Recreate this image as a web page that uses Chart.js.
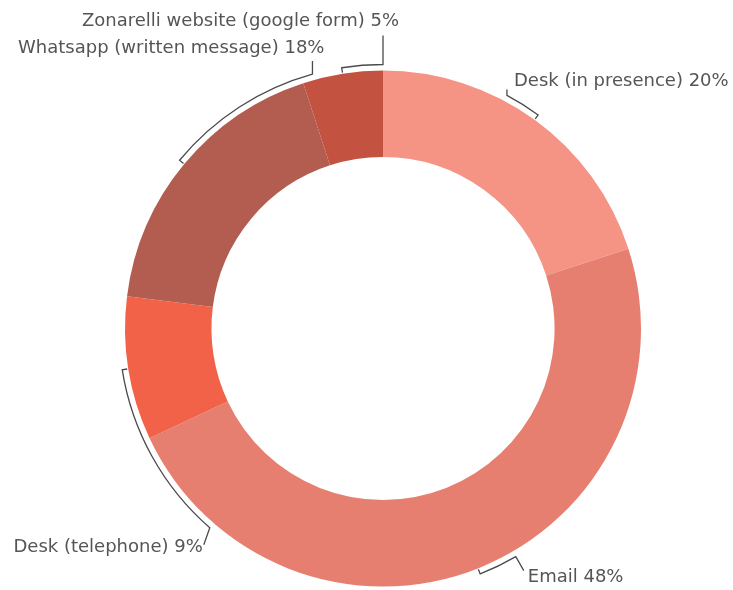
<!DOCTYPE html>
<html><head>
<script src="https://cdn.jsdelivr.net/npm/chart.js@4.4.1/dist/chart.umd.min.js"></script>
<style>body{margin:0;background:#fff}canvas{display:block}</style>
</head><body>
<canvas id="c" width="733" height="590"></canvas>
<script>
// Data
const categories = ['Desk (in presence)', 'Email', 'Desk (telephone)', 'Whatsapp (written message)', 'Zonarelli website (google form)'];
const values = [20, 48, 9, 18, 5];
const colors = ['#F59385', '#E67F6F', '#F26249', '#B35D50', '#C45241'];

// Label layout (callout geometry, not data)
const labelAngles = [-62, 59.8, 131, 254.5, 270];         // degrees, where each bracket ends
const leaderVec = [[0,-6],[8,14],[-6,17],[0,-13],[0,-29]]; // leader line from bracket end
const textOff = [[7,-8,'left'],[4,7,'left'],[-1,3,'right'],[12,-13,'right'],[16,-14,'right']];

const calloutPlugin = {
  id: 'callouts',
  afterDatasetsDraw(chart) {
    const ctx = chart.ctx;
    const meta = chart.getDatasetMeta(0);
    const total = values.reduce((a,b)=>a+b,0);
    ctx.save();
    ctx.strokeStyle = '#4a4a4a';
    ctx.fillStyle = '#555';
    ctx.lineWidth = 1.3;
    ctx.font = '18px "DejaVu Sans"';
    ctx.textBaseline = 'middle';
    meta.data.forEach((arc, i) => {
      const p = arc.getProps(['x','y','startAngle','endAngle','outerRadius'], true);
      const mid = (p.startAngle + p.endAngle) / 2;
      let la = labelAngles[i] * Math.PI / 180;
      while (la - mid > Math.PI) la -= 2*Math.PI;
      while (mid - la > Math.PI) la += 2*Math.PI;
      const rb = p.outerRadius + 6, rt = p.outerRadius + 1;
      ctx.beginPath();
      ctx.moveTo(p.x + rt*Math.cos(mid), p.y + rt*Math.sin(mid));
      ctx.lineTo(p.x + rb*Math.cos(mid), p.y + rb*Math.sin(mid));
      ctx.arc(p.x, p.y, rb, mid, la, la < mid);
      const ex = p.x + rb*Math.cos(la), ey = p.y + rb*Math.sin(la);
      const lx = ex + leaderVec[i][0], ly = ey + leaderVec[i][1];
      ctx.lineTo(lx, ly);
      ctx.stroke();
      const pct = Math.round(values[i] / total * 100);
      ctx.textAlign = textOff[i][2];
      ctx.fillText(categories[i] + ' ' + pct + '%', lx + textOff[i][0], ly + textOff[i][1]);
    });
    ctx.restore();
  }
};

new Chart(document.getElementById('c'), {
  type: 'doughnut',
  data: {
    labels: categories,
    datasets: [{ data: values, backgroundColor: colors, borderWidth: 0, hoverOffset: 0 }]
  },
  options: {
    responsive: false,
    animation: false,
    cutout: '66.5%',
    layout: { padding: { top: 70, bottom: 3, left: 125, right: 92 } },
    plugins: { legend: { display: false }, tooltip: { enabled: false } }
  },
  plugins: [calloutPlugin]
});
</script>
</body></html>
